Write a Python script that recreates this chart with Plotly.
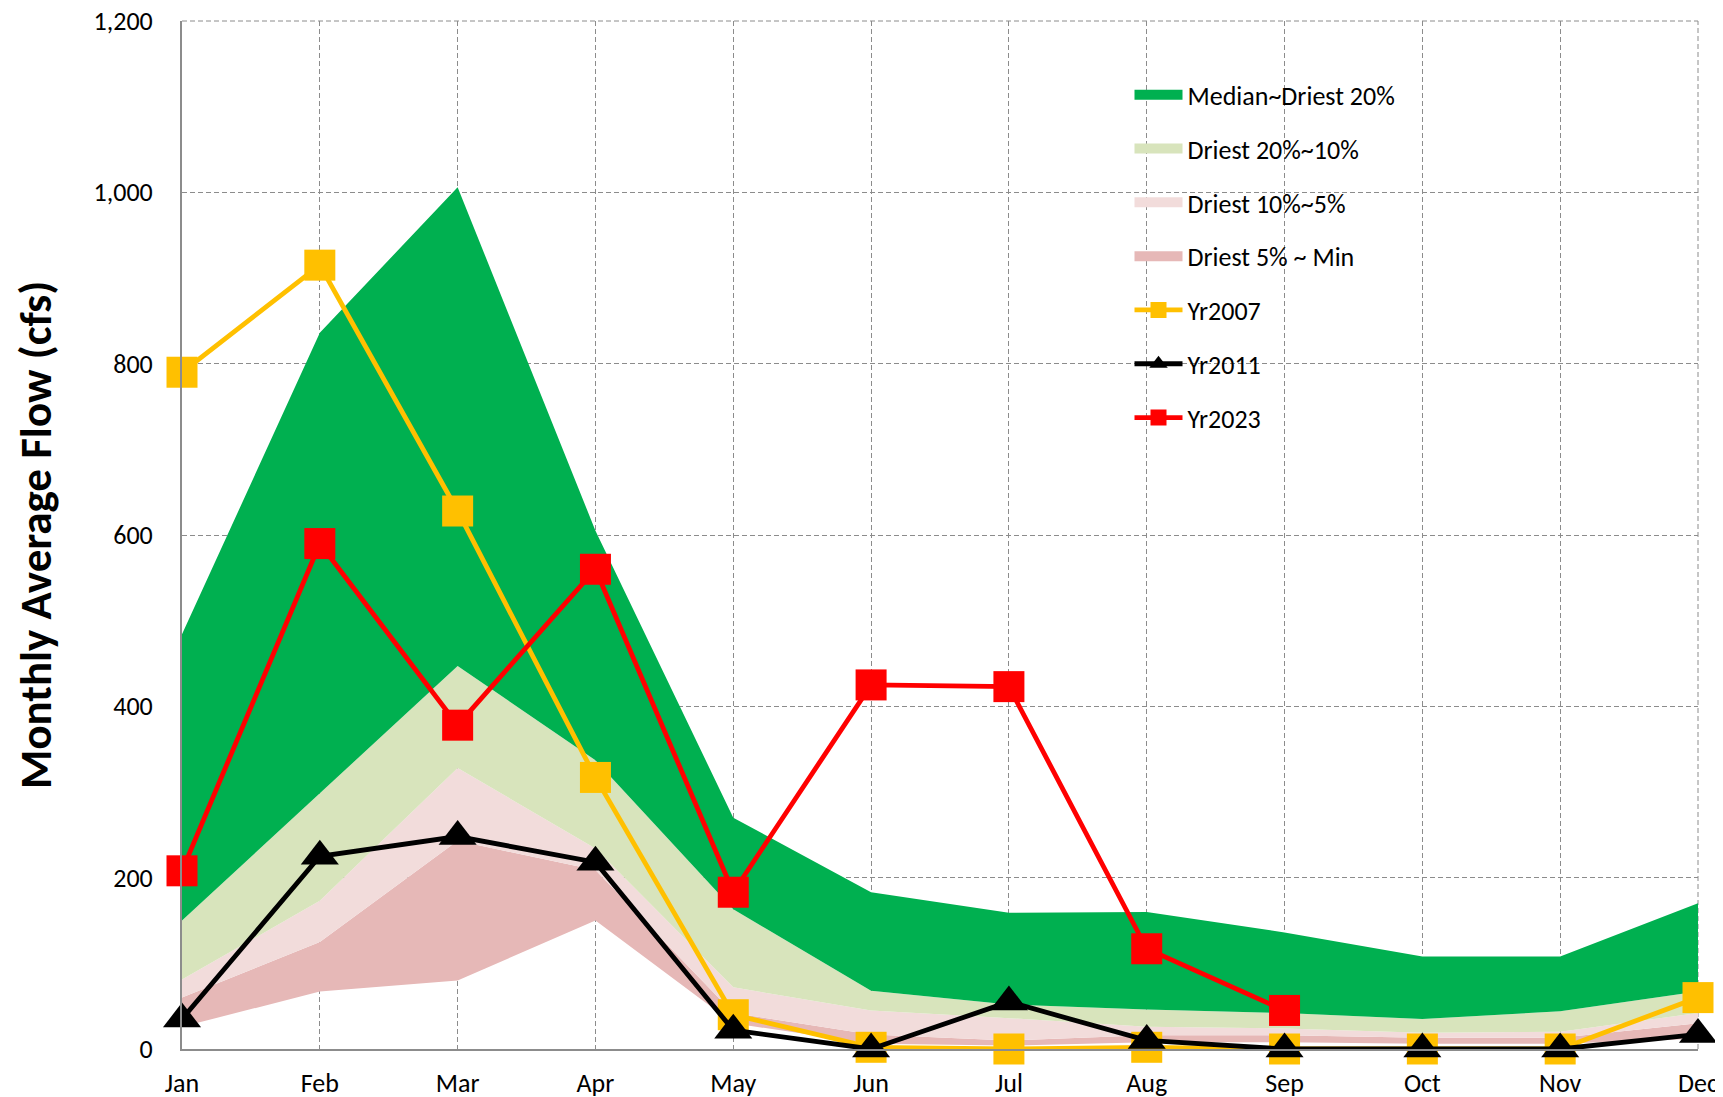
import plotly.graph_objects as go

months = ["Jan", "Feb", "Mar", "Apr", "May", "Jun", "Jul", "Aug", "Sep", "Oct", "Nov", "Dec"]

# band boundaries (cfs)
flow_min = [26, 67, 80, 150, 30, 6, 4, 8, 8, 6, 6, 12]
driest_5 = [60, 125, 243, 209, 42, 17, 10, 16, 16, 13, 13, 30]
driest_10 = [81, 173, 328, 234, 72, 45, 36, 26, 24, 19, 20, 42]
driest_20 = [150, 298, 447, 337, 163, 68, 52, 46, 42, 35, 44, 67]
median = [484, 836, 1006, 605, 270, 183, 159, 160, 136, 108, 108, 170]

yr2007 = [790, 915, 628, 317, 40, 2, 0, 2, 0, 0, 0, 60]
yr2011 = [35, 225, 248, 218, 22, 0, 55, 10, 0, 0, 0, 17]
yr2023 = [208, 590, 378, 560, 183, 425, 423, 117, 45, None, None, None]

font = "Calibri, Carlito, Lato, sans-serif"
grid = "#8C8C8C"

fig = go.Figure()

# invisible base for the lowest band
fig.add_trace(go.Scatter(x=months, y=flow_min, mode="lines", line=dict(width=0),
                         showlegend=False, hoverinfo="skip"))

bands = [
    (driest_5, "Driest 5% ~ Min", "#E6B8B7", 4),
    (driest_10, "Driest 10%~5%", "#F2DCDB", 3),
    (driest_20, "Driest 20%~10%", "#D8E4BC", 2),
    (median, "Median~Driest 20%", "#00B050", 1),
]
for vals, name, color, rank in bands:
    fig.add_trace(go.Scatter(x=months, y=vals, name=name, mode="lines", fill="tonexty",
                             fillcolor=color, line=dict(width=0, color=color),
                             showlegend=False, hoverinfo="x+y+name"))
# legend-only entries with wide swatches
for vals, name, color, rank in bands:
    fig.add_trace(go.Scatter(x=[months[0]], y=[None], name=name, mode="lines",
                             line=dict(width=16, color=color),
                             legendrank=rank, legendgroup=name))

lines = [
    (yr2007, "Yr2007", "#FFC000", "square", 31, 5),
    (yr2011, "Yr2011", "#000000", "triangle-up", 33, 6),
    (yr2023, "Yr2023", "#FF0000", "square", 31, 7),
]
for vals, name, color, symbol, size, rank in lines:
    fig.add_trace(go.Scatter(x=months, y=vals, name=name, mode="lines+markers",
                             line=dict(color=color, width=4.8),
                             marker=dict(symbol=symbol, size=size, color=color),
                             cliponaxis=False, legendrank=rank, legendgroup=name))

fig.update_layout(
    width=1723, height=1097,
    margin=dict(l=174, r=33, t=13, b=56),
    plot_bgcolor="white", paper_bgcolor="white",
    font=dict(family=font, size=26, color="black"),
    legend=dict(x=0.625, y=0.951, xanchor="left", yanchor="top",
                bgcolor="rgba(0,0,0,0)", tracegroupgap=17,
                font=dict(size=26), itemwidth=48),
    showlegend=True,
)
fig.update_xaxes(
    type="category", range=[0, 11], showgrid=True, gridcolor=grid, griddash="5px,3px",
    gridwidth=1, showline=True, linecolor=grid, linewidth=2, ticks="",
    ticklabelstandoff=10, tickfont=dict(size=26), automargin=False,
    ticklabeloverflow="allow",
)
fig.update_yaxes(
    range=[0, 1200], tickvals=[0, 200, 400, 600, 800, 1000, 1200], tickformat=",",
    showgrid=True, gridcolor=grid,
    griddash="5px,3px", gridwidth=1, showline=True, linecolor=grid, linewidth=2,
    ticks="", ticklabelstandoff=22, zeroline=False, tickfont=dict(size=26), automargin=False,
    ticklabeloverflow="allow",
)
# dashed top and right border (gridlines at the range ends)
fig.add_shape(type="line", xref="paper", yref="paper", x0=0, x1=1, y0=1, y1=1,
              line=dict(color=grid, width=1, dash="5px,3px"), layer="below")
fig.add_shape(type="line", xref="paper", yref="paper", x0=1, x1=1, y0=0, y1=1,
              line=dict(color=grid, width=1, dash="5px,3px"), layer="below")
fig.add_annotation(text="<b>Monthly Average Flow (cfs)</b>", xref="paper", yref="paper",
                   x=-0.097, y=0.5, xanchor="center", yanchor="middle", textangle=-90,
                   showarrow=False, font=dict(size=45, family=font))

fig.write_html("out.html")
